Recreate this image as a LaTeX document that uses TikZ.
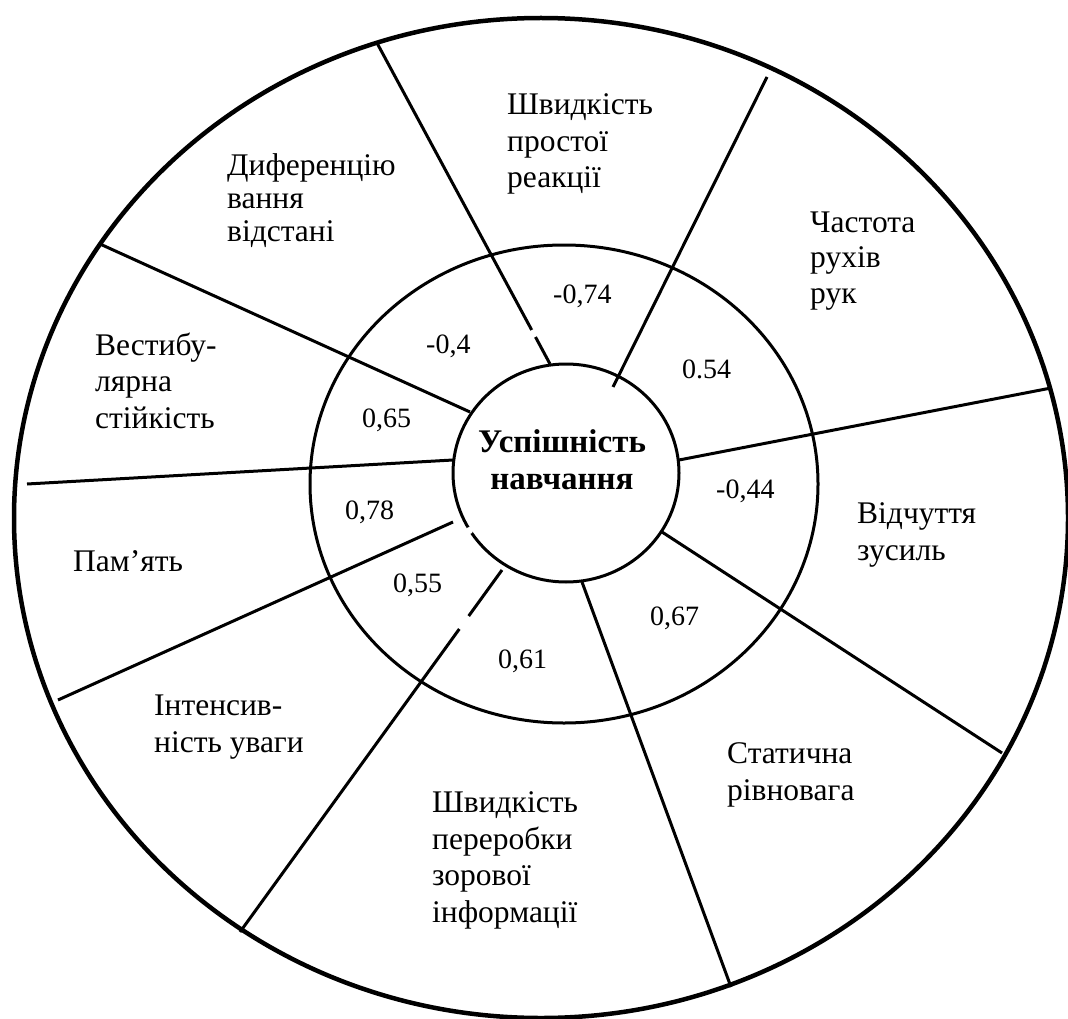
\documentclass[tikz,border=0pt]{standalone}
\usepackage{fontspec}
\setmainfont{Liberation Serif}
\usetikzlibrary{shapes.geometric}

\begin{document}
\begin{tikzpicture}[x=1pt, y=-1pt,
  spoke/.style={line width=3pt},
  rim/.style={line width=4.5pt},
  ring/.style={line width=3pt},
  lbl/.style={anchor=base west, inner sep=0pt, align=left, font=\fontsize{31.5}{36.5}\selectfont},
  val/.style={anchor=base west, inner sep=0pt, font=\fontsize{28}{32}\selectfont}]
\useasboundingbox (0,0) rectangle (1068,1019);

% outer rim and middle ring
\draw[rim] (541,518) ellipse [x radius=527pt, y radius=500pt];
\draw[ring] (564,484) ellipse [x radius=254pt, y radius=239pt];

% central circle, with a small break on its lower left
\node[draw, ring, ellipse, minimum width=226pt, minimum height=218pt, inner sep=0pt] (core) at (566,473) {};
\fill[white] (469.5,530.5) circle (3.6pt);
% multi-line nodes sit on the baseline of their last line
\node[anchor=base, inner sep=0pt, align=center, font=\bfseries\fontsize{33}{37}\selectfont] (title) at (562,489) {Успішність\\навчання};

% spoke end points: inner (i) and outer (o)
\coordinate (i1) at (550,364);   \coordinate (o1) at (377,43);
\coordinate (g1a) at (535.5,337); \coordinate (g1b) at (531.7,330);
\coordinate (i2) at (613,387);   \coordinate (o2) at (767,77);
\coordinate (i3) at (679,460);   \coordinate (o3) at (1051,388);
\coordinate (i4) at (662,532);   \coordinate (o4) at (1002,753);
\coordinate (i5) at (582,582);   \coordinate (o5) at (731,987);
\coordinate (i6) at (502,570);   \coordinate (o6) at (240,932);
\coordinate (g6a) at (468.7,616); \coordinate (g6b) at (459.3,629);
\coordinate (i7) at (453,522);   \coordinate (o7) at (58,700);
\coordinate (i8) at (453,460);   \coordinate (o8) at (27,484);
\coordinate (i9) at (470,412);   \coordinate (o9) at (100,244);

\draw[spoke] (i1) -- (g1a);  \draw[spoke] (g1b) -- (o1);
\draw[spoke] (i2) -- (o2);
\draw[spoke] (i3) -- (o3);
\draw[spoke] (i4) -- (o4);
\draw[spoke] (i5) -- (o5);
\draw[spoke] (i6) -- (g6a);  \draw[spoke] (g6b) -- (o6);
\draw[spoke] (i7) -- (o7);
\draw[spoke] (i8) -- (o8);
\draw[spoke] (i9) -- (o9);

% correlation values
\node[val] (v1) at (553,303) {-0,74};
\node[val] (v2) at (682,378) {0.54};
\node[val] (v3) at (716,498) {-0,44};
\node[val] (v4) at (650,625) {0,67};
\node[val] (v5) at (498,668) {0,61};
\node[val] (v6) at (393,592) {0,55};
\node[val] (v7) at (345,519) {0,78};
\node[val] (v8) at (362,427) {0,65};
\node[val] (v9) at (426,353) {-0,4};

% factor names
\node[lbl, font=\fontsize{31.5}{33}\selectfont] (f9) at (227,241) {Диференцію\\вання\\відстані};
\node[lbl] (f1) at (507,188) {Швидкість\\простої\\реакції};
\node[lbl, font=\fontsize{31.5}{35.5}\selectfont] (f2) at (810,303) {Частота\\рухів\\рук};
\node[lbl] (f3) at (857,560) {Відчуття\\зусиль};
\node[lbl] (f4) at (727,800) {Статична\\рівновага};
\node[lbl] (f5) at (432,922) {Швидкість\\переробки\\зорової\\інформації};
\node[lbl] (f6) at (154,752) {Інтенсив-\\ність уваги};
\node[lbl] (f7) at (73,571) {Пам’ять};
\node[lbl] (f8) at (95,428) {Вестибу-\\лярна\\стійкість};
\end{tikzpicture}
\end{document}
